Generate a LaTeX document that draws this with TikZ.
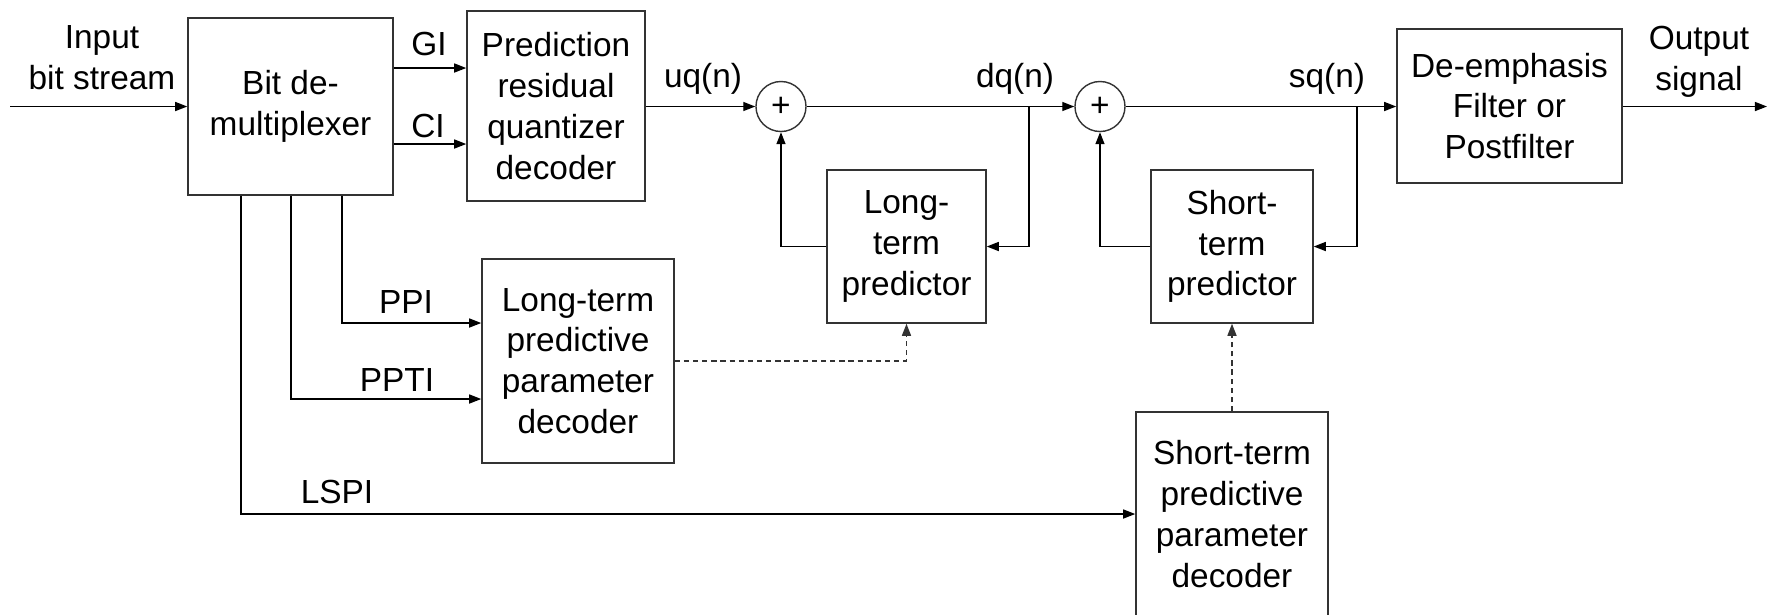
\documentclass[tikz,border=0pt]{standalone}
\usepackage{fontspec}
\setmainfont{Liberation Sans}
\usetikzlibrary{arrows.meta}

\begin{document}
\begin{tikzpicture}[x=0.01cm,y=-0.01cm,
    font=\fontsize{9.5}{11.6}\selectfont,
    block/.style={draw=black!80,thin,align=center,inner sep=0pt},
    adder/.style={draw=black!80,thin,circle,minimum size=0.5cm,inner sep=0pt},
    lab/.style={anchor=base,inner sep=0pt},
    arr/.style={thin,-{Triangle[length=0.12cm,width=0.09cm]}},
    dasharr/.style={arr,draw=black!80,dash pattern=on 1.5pt off 1.1pt}]
        \clip (0,0) rectangle (1768,614);
        % blocks
        \node[block,minimum width=2.05cm,minimum height=1.77cm] (demux) at (290.5,106.5) {Bit de-\\multiplexer};
        \node[block,minimum width=1.78cm,minimum height=1.9cm] (prqd) at (556,106) {Prediction\\residual\\quantizer\\decoder};
        \node[adder] (add1) at (781,106.5) {+};
        \node[adder] (add2) at (1100,106.5) {+};
        \node[block,minimum width=1.59cm,minimum height=1.53cm] (ltp) at (906.5,246.5) {Long-\\term\\predictor};
        \node[block,minimum width=1.62cm,minimum height=1.53cm] (stp) at (1232,246.5) {Short-\\term\\predictor};
        \node[block,minimum width=2.25cm,minimum height=1.54cm] (deemph) at (1509.5,106) {De-emphasis\\Filter or\\Postfilter};
        \node[block,minimum width=1.92cm,minimum height=2.04cm] (ltppd) at (578,361) {Long-term\\predictive\\parameter\\decoder};
        \node[block,minimum width=1.92cm,minimum height=2.04cm] (stppd) at (1232,514) {Short-term\\predictive\\parameter\\decoder};
        % signal names
        \node[align=center] (input) at (102,58) {Input\\bit stream};
        \node[align=center] (output) at (1699,62) {Output\\signal};
        \node[lab] (gi) at (429,55) {GI};
        \node[lab] (ci) at (428,137) {CI};
        \node[lab] (uq) at (703,87) {uq(n)};
        \node[lab] (dq) at (1015,87) {dq(n)};
        \node[lab] (sq) at (1327,87) {sq(n)};
        \node[lab] (ppi) at (406,313) {PPI};
        \node[lab] (ppti) at (397,391) {PPTI};
        \node[lab] (lspi) at (337,503) {LSPI};
        \coordinate (in) at (10,106.5);
        \coordinate (out) at (1767,106.5);
        \coordinate (tapd) at (1029,106.5);
        \coordinate (tapsq) at (1357,106.5);
        % main path
        \draw[arr] (in) -- (demux.west);
        \draw[arr] (demux.east |- 0,68) -- (prqd.west |- 0,68);
        \draw[arr] (demux.east |- 0,144) -- (prqd.west |- 0,144);
        \draw[arr] (prqd.east |- add1) -- (add1.west);
        \draw[arr] (add1.east) -- (add2.west);
        \draw[arr] (add2.east) -- (deemph.west |- add2);
        \draw[arr] (deemph.east |- out) -- (out);
        % feedback loops
        \draw[arr] (tapd) |- (ltp.east);
        \draw[arr] (ltp.west) -| (add1.south);
        \draw[arr] (tapsq) |- (stp.east);
        \draw[arr] (stp.west) -| (add2.south);
        % parameter paths
        \draw[arr] (demux.south -| 342,0) |- (ltppd.west |- 0,323);
        \draw[arr] (demux.south -| 291,0) |- (ltppd.west |- 0,399);
        \draw[arr] (demux.south -| 241,0) |- (stppd.west);
        \draw[dasharr] (ltppd.east) -| (ltp.south);
        \draw[dasharr] (stppd.north) -- (stp.south);
\end{tikzpicture}
\end{document}
